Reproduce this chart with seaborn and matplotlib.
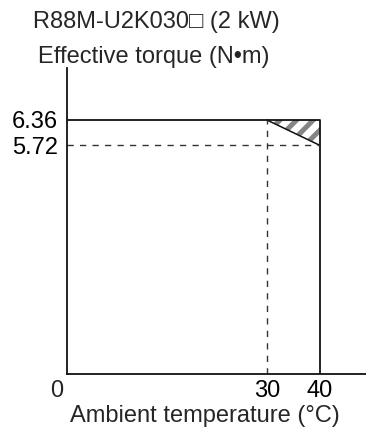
import numpy as np
import pandas as pd
import seaborn as sns
import matplotlib
matplotlib.use('Agg')
import matplotlib.pyplot as plt

# Chart values
title_text = 'R88M-U2K030\u25a1 (2 kW)'
temps = [0, 30, 40]              # ambient temperature ticks (degC)
rated_torque = 6.36              # N*m up to 40 degC
derated_torque = 5.72            # N*m at 40 degC after derating from 30 degC
derate_start = 30
max_temp = 40

sns.set_style('white')
plt.rcParams['font.family'] = ['Liberation Sans', 'DejaVu Sans']
plt.rcParams['hatch.linewidth'] = 3.6


# drawing is schematic: 30..40 is compressed compared with 0..30
def fwd(x):
    x = np.asarray(x, dtype=float)
    return np.where(x <= 30, x, 30 + (x - 30) * 0.8)


def inv(x):
    x = np.asarray(x, dtype=float)
    return np.where(x <= 30, x, 30 + (x - 30) / 0.8)


fig = plt.figure(figsize=(3.66, 4.32), dpi=100)
ax = fig.add_axes([0.1822, 0.1343, 0.8178, 0.7083])
ax.set_xscale('function', functions=(fwd, inv))

# outline of the usable area
outline = pd.DataFrame({
    'temp': [0, max_temp, max_temp],
    'torque': [rated_torque, rated_torque, 0],
})
sns.lineplot(data=outline, x='temp', y='torque', sort=False, estimator=None,
             color='#111111', linewidth=1.3, ax=ax)

# derating line
derate = pd.DataFrame({'temp': [derate_start, max_temp],
                       'torque': [rated_torque, derated_torque]})
sns.lineplot(data=derate, x='temp', y='torque', sort=False, estimator=None,
             color='#111111', linewidth=1.1, ax=ax)

# hatched region that is lost above 30 degC
ax.fill([derate_start, max_temp, max_temp],
        [rated_torque, rated_torque, derated_torque],
        facecolor='white', edgecolor='#858585', hatch='//', linewidth=0, zorder=1)

# dashed guides
ax.plot([0, max_temp], [derated_torque, derated_torque], color='#333333',
        linewidth=1.0, dashes=(4.5, 4.5))
ax.plot([derate_start, derate_start], [0, rated_torque], color='#333333',
        linewidth=1.0, dashes=(4.5, 4.5))

ax.set_xlim(0, 48.6)
ax.set_ylim(0, 7.66)

for side in ['top', 'right']:
    ax.spines[side].set_visible(False)
for side in ['left', 'bottom']:
    ax.spines[side].set_color('#111111')
    ax.spines[side].set_linewidth(1.3)

ax.set_xticks(temps[1:])
ax.set_xticklabels([str(t) for t in temps[1:]])
ax.set_yticks([derated_torque, rated_torque])
ax.set_yticklabels([f'{derated_torque:.2f}', f'{rated_torque:.2f}'])
ax.tick_params(axis='both', length=0, labelsize=17, colors='black')
ax.tick_params(axis='x', pad=4.5)
ax.tick_params(axis='y', pad=6.5)
ax.set_xlabel('')
ax.set_ylabel('')

# origin label sits left of the axis corner
ax.text(-0.035, -0.02, str(temps[0]), transform=ax.transAxes, fontsize=17,
        ha='center', va='top')

fig.text(33 / 366, 1 - 22 / 432, title_text, fontsize=17, ha='left', va='center')
fig.text(38 / 366, 1 - 57 / 432, 'Effective torque (N\u2022m)', fontsize=17,
         ha='left', va='center')
fig.text(205 / 366, 1 - 416 / 432, 'Ambient temperature (\u00b0C)', fontsize=17,
         ha='center', va='center')

fig.savefig('out.png', dpi=100)
